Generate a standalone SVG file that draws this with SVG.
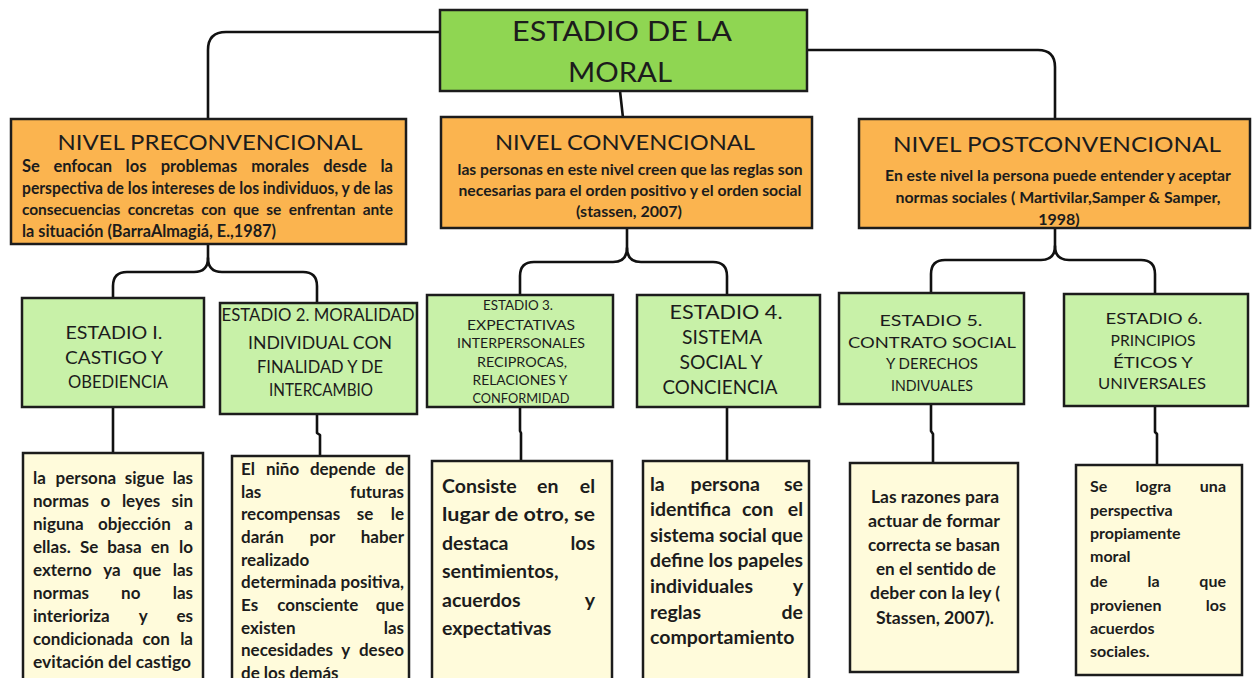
<svg xmlns="http://www.w3.org/2000/svg" width="1253" height="678" viewBox="0 0 1253 678">
<style>
.box{stroke:#1c1c1c;stroke-width:2.5}
.title{fill:#8fd652}
.lvl{fill:#fbb44f}
.stg{fill:#c8f1a8}
.txt{fill:#fffbdb}
.h{font-family:Lato,"Liberation Sans",sans-serif;font-weight:400;fill:#1c1c1c;text-anchor:middle}
.b{font-family:Lato,"Liberation Sans",sans-serif;font-weight:700;fill:#1c1c1c}
.e{text-anchor:end}
.m{text-anchor:middle}
.con{fill:none;stroke:#111;stroke-width:2.6;stroke-linecap:round;stroke-linejoin:round}
</style>
<rect width="1253" height="678" fill="#ffffff"/>
<g id="connectors" class="con">
<path d="M440,32 H226 Q208,32 208,50 V119"/>
<path d="M807,50 H1038 Q1055,50 1055,67 V119"/>
<path d="M620,91 L623,118"/>
<path d="M208,244 V258 Q208,272 194,272 H127 Q113,272 113,286 V298"/>
<path d="M208,258 Q208,272 222,272 H303 Q317,272 317,286 V303"/>
<path d="M627,228 V248 Q627,262 613,262 H534 Q520,262 520,276 V295"/>
<path d="M627,248 Q627,262 641,262 H713 Q727,262 727,276 V295"/>
<path d="M1055,228 V246 Q1055,260 1041,260 H945 Q931,260 931,274 V293"/>
<path d="M1055,246 Q1055,260 1069,260 H1141 Q1155,260 1155,274 V294"/>
<path d="M113,407 V453"/>
<path d="M317,414 V433 L320,435 V456"/>
<path d="M520,407 V431 L521,433 V462"/>
<path d="M727,407 V461"/>
<path d="M931,404 V431 L933,434 V463"/>
<path d="M1155,406 V432 L1157,434 V464"/>
</g>
<g id="n-root">
<rect class="box title" x="440" y="10" width="367" height="81"/>
<text class="h" x="622" y="41" font-size="26" textLength="220" lengthAdjust="spacingAndGlyphs">ESTADIO DE LA</text>
<text class="h" x="620" y="82" font-size="26" textLength="104" lengthAdjust="spacingAndGlyphs">MORAL</text>
</g>
<g id="n-pre">
<rect class="box lvl" x="11" y="119" width="395" height="125"/>
<text class="h" x="210" y="150" font-size="21" textLength="305" lengthAdjust="spacingAndGlyphs">NIVEL PRECONVENCIONAL</text>
<text class="b" font-size="16.5" y="172"><tspan x="22">Se</tspan><tspan x="53.4">enfocan</tspan><tspan x="125.6">los</tspan><tspan x="160.7">problemas</tspan><tspan x="251.2">morales</tspan><tspan x="323.2">desde</tspan></text>
<text class="b e" font-size="16.5" x="393" y="172">la</text>
<text class="b" font-size="16.5" x="22" y="194" textLength="371" lengthAdjust="spacingAndGlyphs">perspectiva de los intereses de los individuos, y de las</text>
<text class="b" font-size="15.5" x="22" y="215" word-spacing="3.75" textLength="371" lengthAdjust="spacing">consecuencias concretas con que se enfrentan ante</text>
<text class="b" font-size="16.5" x="22" y="237" textLength="254" lengthAdjust="spacingAndGlyphs">la situación (BarraAlmagiá, E.,1987)</text>
</g>
<g id="n-conv">
<rect class="box lvl" x="441" y="117" width="371" height="111"/>
<text class="h" x="625" y="150" font-size="21" textLength="260" lengthAdjust="spacingAndGlyphs">NIVEL CONVENCIONAL</text>
<text class="b m" font-size="16" x="630" y="175" textLength="345" lengthAdjust="spacingAndGlyphs">las personas en este nivel creen que las reglas son</text>
<text class="b m" font-size="16" x="630" y="196" textLength="343" lengthAdjust="spacingAndGlyphs">necesarias para el orden positivo y el orden social</text>
<text class="b m" font-size="16" x="629" y="217">(stassen, 2007)</text>
</g>
<g id="n-post">
<rect class="box lvl" x="859" y="119" width="391" height="109"/>
<text class="h" x="1057" y="152" font-size="21" textLength="328" lengthAdjust="spacingAndGlyphs">NIVEL POSTCONVENCIONAL</text>
<text class="b m" font-size="16" x="1058" y="181" textLength="346" lengthAdjust="spacingAndGlyphs">En este nivel la persona puede entender y aceptar</text>
<text class="b m" font-size="16" x="1058" y="203" textLength="325" lengthAdjust="spacingAndGlyphs">normas sociales ( Martivilar,Samper &amp; Samper,</text>
<text class="b m" font-size="16" x="1059" y="225">1998)</text>
</g>
<g id="n-e1">
<rect class="box stg" x="22" y="298" width="182" height="109"/>
<text class="h" font-size="18" x="114" y="339" textLength="97" lengthAdjust="spacingAndGlyphs">ESTADIO I.</text>
<text class="h" font-size="18" x="114" y="364" textLength="98" lengthAdjust="spacingAndGlyphs">CASTIGO Y</text>
<text class="h" font-size="18" x="118" y="388" textLength="100" lengthAdjust="spacingAndGlyphs">OBEDIENCIA</text>
</g>
<g id="n-e2">
<rect class="box stg" x="220" y="303" width="197" height="111"/>
<text class="h" font-size="16.5" x="318" y="321" textLength="193" lengthAdjust="spacingAndGlyphs">ESTADIO 2. MORALIDAD</text>
<text class="h" font-size="16.5" x="320" y="349" textLength="144" lengthAdjust="spacingAndGlyphs">INDIVIDUAL  CON</text>
<text class="h" font-size="16.5" x="320" y="373" textLength="126" lengthAdjust="spacingAndGlyphs">FINALIDAD Y DE</text>
<text class="h" font-size="16.5" x="321" y="396" textLength="104" lengthAdjust="spacingAndGlyphs">INTERCAMBIO</text>
</g>
<g id="n-e3">
<rect class="box stg" x="427" y="295" width="186" height="112"/>
<text class="h" font-size="13.5" x="518" y="310" textLength="70" lengthAdjust="spacingAndGlyphs">ESTADIO 3.</text>
<text class="h" font-size="13.5" x="521" y="330" textLength="108" lengthAdjust="spacingAndGlyphs">EXPECTATIVAS</text>
<text class="h" font-size="13.5" x="521" y="348" textLength="128" lengthAdjust="spacingAndGlyphs">INTERPERSONALES</text>
<text class="h" font-size="13.5" x="522" y="367" textLength="90" lengthAdjust="spacingAndGlyphs">RECIPROCAS,</text>
<text class="h" font-size="13.5" x="520" y="385" textLength="95" lengthAdjust="spacingAndGlyphs">RELACIONES Y</text>
<text class="h" font-size="13.5" x="521" y="403" textLength="97" lengthAdjust="spacingAndGlyphs">CONFORMIDAD</text>
</g>
<g id="n-e4">
<rect class="box stg" x="637" y="295" width="183" height="112"/>
<text class="h" font-size="19.5" x="726" y="319" textLength="113" lengthAdjust="spacingAndGlyphs">ESTADIO 4.</text>
<text class="h" font-size="19.5" x="722" y="344" textLength="80" lengthAdjust="spacingAndGlyphs">SISTEMA</text>
<text class="h" font-size="19.5" x="721" y="369" textLength="83" lengthAdjust="spacingAndGlyphs">SOCIAL Y</text>
<text class="h" font-size="19.5" x="720" y="394" textLength="115" lengthAdjust="spacingAndGlyphs">CONCIENCIA</text>
</g>
<g id="n-e5">
<rect class="box stg" x="839" y="293" width="185" height="111"/>
<text class="h" font-size="16" x="931" y="326" textLength="103" lengthAdjust="spacingAndGlyphs">ESTADIO 5.</text>
<text class="h" font-size="16" x="932" y="348" textLength="168" lengthAdjust="spacingAndGlyphs">CONTRATO SOCIAL</text>
<text class="h" font-size="16" x="932" y="369" textLength="92" lengthAdjust="spacingAndGlyphs">Y DERECHOS</text>
<text class="h" font-size="16" x="932" y="391" textLength="82" lengthAdjust="spacingAndGlyphs">INDIVUALES</text>
</g>
<g id="n-e6">
<rect class="box stg" x="1064" y="294" width="184" height="112"/>
<text class="h" font-size="16" x="1154" y="324" textLength="97" lengthAdjust="spacingAndGlyphs">ESTADIO 6.</text>
<text class="h" font-size="16" x="1153" y="346" textLength="85" lengthAdjust="spacingAndGlyphs">PRINCIPIOS</text>
<text class="h" font-size="16" x="1153" y="368" textLength="80" lengthAdjust="spacingAndGlyphs">ÉTICOS Y</text>
<text class="h" font-size="16" x="1152" y="389" textLength="108" lengthAdjust="spacingAndGlyphs">UNIVERSALES</text>
</g>
<g id="n-t1">
<rect class="box txt" x="23" y="453" width="180" height="240"/>
<text class="b" font-size="17" y="484"><tspan x="33">la</tspan><tspan x="55.6">persona</tspan><tspan x="124.8">sigue</tspan></text>
<text class="b e" font-size="17" x="193" y="484">las</text>
<text class="b" font-size="17" y="507"><tspan x="33">normas</tspan><tspan x="100.4">o</tspan><tspan x="121.9">leyes</tspan></text>
<text class="b e" font-size="17" x="193" y="507">sin</text>
<text class="b" font-size="17" y="530"><tspan x="33">niguna</tspan><tspan x="98">objección</tspan></text>
<text class="b e" font-size="17" x="193" y="530">a</text>
<text class="b" font-size="17" y="553"><tspan x="33">ellas.</tspan><tspan x="80">Se</tspan><tspan x="107.2">basa</tspan><tspan x="150.8">en</tspan></text>
<text class="b e" font-size="17" x="193" y="553">lo</text>
<text class="b" font-size="17" y="576"><tspan x="33">externo</tspan><tspan x="103.2">ya</tspan><tspan x="132.8">que</tspan></text>
<text class="b e" font-size="17" x="193" y="576">las</text>
<text class="b" font-size="17" y="599"><tspan x="33">normas</tspan><tspan x="121.1">no</tspan></text>
<text class="b e" font-size="17" x="193" y="599">las</text>
<text class="b" font-size="17" y="622"><tspan x="33">interioriza</tspan><tspan x="138.8">y</tspan></text>
<text class="b e" font-size="17" x="193" y="622">es</text>
<text class="b" font-size="17" y="645"><tspan x="33">condicionada</tspan><tspan x="142.5">con</tspan></text>
<text class="b e" font-size="17" x="193" y="645">la</text>
<text class="b" font-size="17" x="33" y="668" textLength="158" lengthAdjust="spacingAndGlyphs">evitación del castigo</text>
</g>
<g id="n-t2">
<rect class="box txt" x="232" y="456" width="177" height="240"/>
<text class="b" font-size="17" y="475"><tspan x="241">El</tspan><tspan x="265.9">niño</tspan><tspan x="309.9">depende</tspan></text>
<text class="b e" font-size="17" x="404" y="475">de</text>
<text class="b" font-size="17" x="241" y="497.5">las</text>
<text class="b e" font-size="17" x="404" y="497.5">futuras</text>
<text class="b" font-size="17" y="520"><tspan x="241">recompensas</tspan><tspan x="356.7">se</tspan></text>
<text class="b e" font-size="17" x="404" y="520">le</text>
<text class="b" font-size="17" y="543"><tspan x="241">darán</tspan><tspan x="309.6">por</tspan></text>
<text class="b e" font-size="17" x="404" y="543">haber</text>
<text class="b" font-size="17" x="241" y="566">realizado</text>
<text class="b" font-size="17" x="241" y="588" textLength="163" lengthAdjust="spacingAndGlyphs">determinada positiva,</text>
<text class="b" font-size="17" y="611"><tspan x="241">Es</tspan><tspan x="277.2">consciente</tspan></text>
<text class="b e" font-size="17" x="404" y="611">que</text>
<text class="b" font-size="17" x="241" y="634">existen</text>
<text class="b e" font-size="17" x="404" y="634">las</text>
<text class="b" font-size="17" y="656"><tspan x="241">necesidades</tspan><tspan x="341.3">y</tspan></text>
<text class="b e" font-size="17" x="404" y="656">deseo</text>
<text class="b" font-size="17" x="241" y="679">de los demás</text>
</g>
<g id="n-t3">
<rect class="box txt" x="432" y="461" width="180" height="240"/>
<text class="b" font-size="19.5" y="493"><tspan x="442">Consiste</tspan><tspan x="537">en</tspan></text>
<text class="b e" font-size="19.5" x="595" y="493">el</text>
<text class="b" font-size="19.5" x="442" y="521" textLength="153" lengthAdjust="spacingAndGlyphs">lugar de otro, se</text>
<text class="b" font-size="19.5" x="442" y="550">destaca</text>
<text class="b e" font-size="19.5" x="595" y="550">los</text>
<text class="b" font-size="19.5" x="442" y="578">sentimientos,</text>
<text class="b" font-size="19.5" x="442" y="607">acuerdos</text>
<text class="b e" font-size="19.5" x="595" y="607">y</text>
<text class="b" font-size="19.5" x="442" y="635">expectativas</text>
</g>
<g id="n-t4">
<rect class="box txt" x="643" y="461" width="166" height="240"/>
<text class="b" font-size="19.5" y="491"><tspan x="650">la</tspan><tspan x="690.6">persona</tspan></text>
<text class="b e" font-size="19.5" x="803" y="491">se</text>
<text class="b" font-size="19.5" y="516"><tspan x="650">identifica</tspan><tspan x="742">con</tspan></text>
<text class="b e" font-size="19.5" x="803" y="516">el</text>
<text class="b" font-size="19.5" x="650" y="542" textLength="153" lengthAdjust="spacingAndGlyphs">sistema social que</text>
<text class="b" font-size="19.5" x="650" y="567" textLength="153" lengthAdjust="spacingAndGlyphs">define los papeles</text>
<text class="b" font-size="19.5" x="650" y="593">individuales</text>
<text class="b e" font-size="19.5" x="803" y="593">y</text>
<text class="b" font-size="19.5" x="650" y="619">reglas</text>
<text class="b e" font-size="19.5" x="803" y="619">de</text>
<text class="b" font-size="19.5" x="650" y="644">comportamiento</text>
</g>
<g id="n-t5">
<rect class="box txt" x="850" y="463" width="168" height="209"/>
<text class="b m" font-size="16.5" x="935" y="503" textLength="128" lengthAdjust="spacingAndGlyphs">Las razones para</text>
<text class="b m" font-size="16.5" x="934" y="527" textLength="132" lengthAdjust="spacingAndGlyphs">actuar  de formar</text>
<text class="b m" font-size="16.5" x="934" y="551" textLength="132" lengthAdjust="spacingAndGlyphs">correcta se basan</text>
<text class="b m" font-size="16.5" x="936" y="575" textLength="120" lengthAdjust="spacingAndGlyphs">en el sentido de</text>
<text class="b m" font-size="16.5" x="935" y="599" textLength="130" lengthAdjust="spacingAndGlyphs">deber con la ley (</text>
<text class="b m" font-size="16.5" x="935" y="624" textLength="118" lengthAdjust="spacingAndGlyphs">Stassen, 2007).</text>
</g>
<g id="n-t6">
<rect class="box txt" x="1076" y="465" width="166" height="210"/>
<text class="b" font-size="16" y="492"><tspan x="1090">Se</tspan><tspan x="1135.6">logra</tspan></text>
<text class="b e" font-size="16" x="1226" y="492">una</text>
<text class="b" font-size="16" x="1090" y="516">perspectiva</text>
<text class="b" font-size="16" x="1090" y="539">propiamente</text>
<text class="b" font-size="16" x="1090" y="562">moral</text>
<text class="b" font-size="16" y="587"><tspan x="1090">de</tspan><tspan x="1147.5">la</tspan></text>
<text class="b e" font-size="16" x="1226" y="587">que</text>
<text class="b" font-size="16" x="1090" y="611">provienen</text>
<text class="b e" font-size="16" x="1226" y="611">los</text>
<text class="b" font-size="16" x="1090" y="634">acuerdos</text>
<text class="b" font-size="16" x="1090" y="657">sociales.</text>
</g>
</svg>
